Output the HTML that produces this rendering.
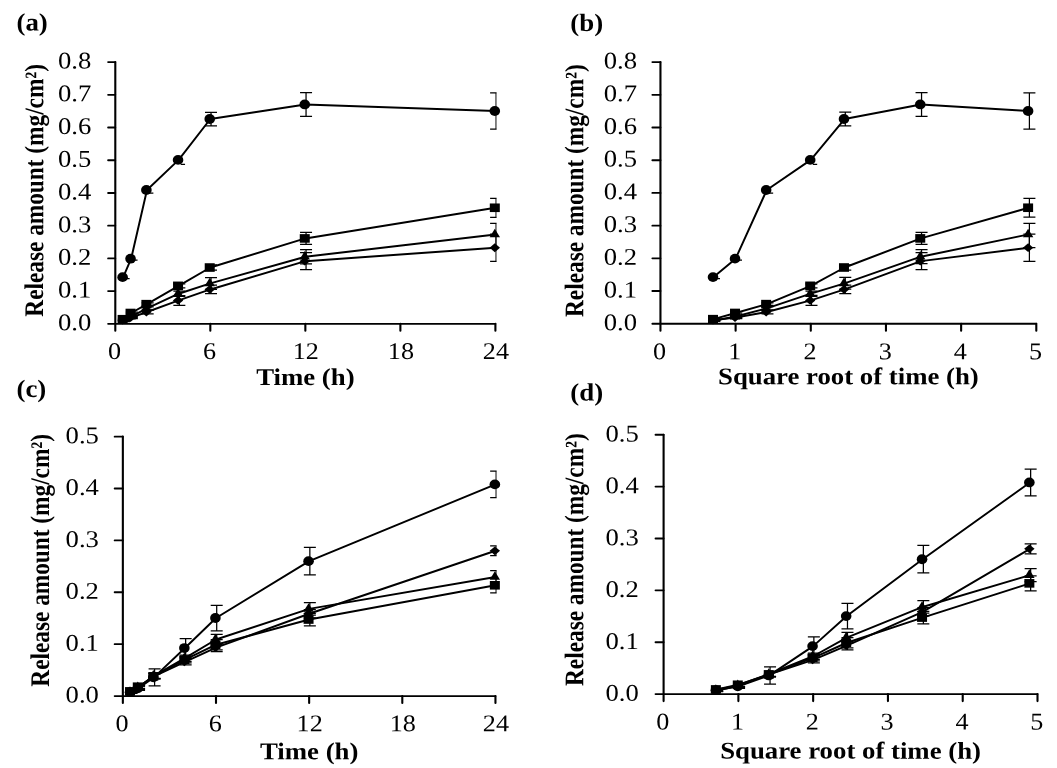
<!DOCTYPE html>
<html lang="en">
<head>
<meta charset="utf-8">
<title>Release amount charts</title>
<style>
html,body{margin:0;padding:0;background:#fff;}
body{width:1057px;height:768px;overflow:hidden;}
svg{display:block;font-family:"Liberation Serif",serif;fill:#000;}
</style>
</head>
<body>
<svg width="1057" height="768" viewBox="0 0 1057 768">
<defs><filter id="soft" x="0" y="0" width="100%" height="100%" filterUnits="userSpaceOnUse"><feGaussianBlur stdDeviation="0.4"/></filter></defs>
<rect width="1057" height="768" fill="#fff"/>
<g filter="url(#soft)">
<g id="panel-a">
<clipPath id="clip-a"><rect x="115.3" y="52.1" width="381.3" height="281.7"/></clipPath>
<g clip-path="url(#clip-a)">
<path d="M123.92 319.55V320.86M117.92 319.55H129.92M117.92 320.86H129.92M131.84 316.6V318.57M125.84 316.6H137.84M125.84 318.57H137.84M147.67 310.06V313.99M141.67 310.06H153.67M141.67 313.99H153.67M179.35 295.54V305.35M173.35 295.54H185.35M173.35 305.35H185.35M211.02 285.2V293.7M205.02 285.2H217.02M205.02 293.7H217.02M306.05 252.65V269.66M300.05 252.65H312.05M300.05 269.66H312.05M496.1 234.1V261.38M490.1 234.1H502.1M490.1 261.38H502.1" fill="none" stroke="#000" stroke-width="1.25"/>
<polyline points="123.22,320.2 131.14,317.58 146.97,312.02 178.65,300.44 210.32,289.45 305.35,261.16 495.4,247.74" fill="none" stroke="#000" stroke-width="1.95" stroke-linejoin="round"/>
<path d="M123.92 320.2V321.51M117.92 320.2H129.92M117.92 321.51H129.92M131.84 315.62V317.58M125.84 315.62H137.84M125.84 317.58H137.84M147.67 306.79V310.06M141.67 306.79H153.67M141.67 310.06H153.67M179.35 291.09V296.32M173.35 291.09H185.35M173.35 296.32H185.35M211.02 277.51V289.29M205.02 277.51H217.02M205.02 289.29H217.02M306.05 249.71V263.77M300.05 249.71H312.05M300.05 263.77H312.05M496.1 223.41V247.68M490.1 223.41H502.1M490.1 247.68H502.1" fill="none" stroke="#000" stroke-width="1.25"/>
<polyline points="123.22,320.86 131.14,316.6 146.97,308.43 178.65,293.7 210.32,283.4 305.35,256.74 495.4,234.43" fill="none" stroke="#000" stroke-width="1.95" stroke-linejoin="round"/>
<path d="M123.92 318.57V319.87M117.92 318.57H129.92M117.92 319.87H129.92M131.84 312.02V313.99M125.84 312.02H137.84M125.84 313.99H137.84M147.67 302.86V305.48M141.67 302.86H153.67M141.67 305.48H153.67M179.35 283.89V287.82M173.35 283.89H185.35M173.35 287.82H185.35M211.02 264.92V270.15M205.02 264.92H217.02M205.02 270.15H217.02M306.05 232.37V244.47M300.05 232.37H312.05M300.05 244.47H312.05M496.1 198.28V217.26M490.1 198.28H502.1M490.1 217.26H502.1" fill="none" stroke="#000" stroke-width="1.25"/>
<polyline points="123.22,319.22 131.14,313 146.97,304.17 178.65,285.85 210.32,267.53 305.35,238.42 495.4,207.77" fill="none" stroke="#000" stroke-width="1.95" stroke-linejoin="round"/>
<path d="M125.22 278.65H129.62M133.14 260.2H137.54M148.97 193.21H153.38M180.65 164.31H185.05M211.02 112.25V125.79M205.02 112.25H217.02M205.02 125.79H217.02M306.05 92.52V116.4M300.05 92.52H312.05M300.05 116.4H312.05M496.1 92.85V129.16M490.1 92.85H502.1M490.1 129.16H502.1" fill="none" stroke="#000" stroke-width="1.25"/>
<polyline points="123.22,277.15 131.14,258.7 146.97,190.01 178.65,159.91 210.32,119.02 305.35,104.46 495.4,111.01" fill="none" stroke="#000" stroke-width="1.95" stroke-linejoin="round"/>
</g>
<g fill="#000">
<path d="M122.62 315.8L127.82 320.2L122.62 324.6L117.42 320.2Z"/>
<path d="M130.54 313.18L135.74 317.58L130.54 321.98L125.34 317.58Z"/>
<path d="M146.38 307.62L151.57 312.02L146.38 316.42L141.18 312.02Z"/>
<path d="M178.05 296.04L183.25 300.44L178.05 304.84L172.85 300.44Z"/>
<path d="M209.72 285.05L214.92 289.45L209.72 293.85L204.53 289.45Z"/>
<path d="M304.75 256.76L309.95 261.16L304.75 265.56L299.55 261.16Z"/>
<path d="M494.8 243.34L500 247.74L494.8 252.14L489.6 247.74Z"/>
<path d="M122.62 315.12L127.82 323.72L117.42 323.72Z"/>
<path d="M130.54 310.87L135.74 319.47L125.34 319.47Z"/>
<path d="M146.38 302.69L151.57 311.29L141.18 311.29Z"/>
<path d="M178.05 287.97L183.25 296.57L172.85 296.57Z"/>
<path d="M209.72 277.67L214.92 286.27L204.53 286.27Z"/>
<path d="M304.75 251.01L309.95 259.61L299.55 259.61Z"/>
<path d="M494.8 228.7L500 237.3L489.6 237.3Z"/>
<rect x="117.62" y="314.92" width="10" height="8.6"/>
<rect x="125.54" y="308.7" width="10" height="8.6"/>
<rect x="141.38" y="299.87" width="10" height="8.6"/>
<rect x="173.05" y="281.55" width="10" height="8.6"/>
<rect x="204.72" y="263.23" width="10" height="8.6"/>
<rect x="299.75" y="234.12" width="10" height="8.6"/>
<rect x="489.8" y="203.47" width="10" height="8.6"/>
<ellipse cx="122.62" cy="277.15" rx="5.3" ry="4.9"/>
<ellipse cx="130.54" cy="258.7" rx="5.3" ry="4.9"/>
<ellipse cx="146.38" cy="190.01" rx="5.3" ry="4.9"/>
<ellipse cx="178.05" cy="159.91" rx="5.3" ry="4.9"/>
<ellipse cx="209.72" cy="119.02" rx="5.3" ry="4.9"/>
<ellipse cx="304.75" cy="104.46" rx="5.3" ry="4.9"/>
<ellipse cx="494.8" cy="111.01" rx="5.3" ry="4.9"/>
</g>
<path d="M115.3 62.1V330.8M210.32 323.8V330.8M305.35 323.8V330.8M400.38 323.8V330.8M495.4 323.8V330.8" fill="none" stroke="#000" stroke-width="2.1" stroke-linecap="round"/>
<path d="M108.1 323.8H495.4M108.1 291.09H115.3M108.1 258.38H115.3M108.1 225.66H115.3M108.1 192.95H115.3M108.1 160.24H115.3M108.1 127.53H115.3M108.1 94.81H115.3M108.1 62.1H115.3" fill="none" stroke="#000" stroke-width="1.85" stroke-linecap="round"/>
<text transform="translate(91.2,330.3) scale(1.11,1) rotate(0.04)" text-anchor="end" font-size="24.0">0.0</text>
<text transform="translate(91.2,297.59) scale(1.11,1) rotate(0.04)" text-anchor="end" font-size="24.0">0.1</text>
<text transform="translate(91.2,264.88) scale(1.11,1) rotate(0.04)" text-anchor="end" font-size="24.0">0.2</text>
<text transform="translate(91.2,232.16) scale(1.11,1) rotate(0.04)" text-anchor="end" font-size="24.0">0.3</text>
<text transform="translate(91.2,199.45) scale(1.11,1) rotate(0.04)" text-anchor="end" font-size="24.0">0.4</text>
<text transform="translate(91.2,166.74) scale(1.11,1) rotate(0.04)" text-anchor="end" font-size="24.0">0.5</text>
<text transform="translate(91.2,134.03) scale(1.11,1) rotate(0.04)" text-anchor="end" font-size="24.0">0.6</text>
<text transform="translate(91.2,101.31) scale(1.11,1) rotate(0.04)" text-anchor="end" font-size="24.0">0.7</text>
<text transform="translate(91.2,68.6) scale(1.11,1) rotate(0.04)" text-anchor="end" font-size="24.0">0.8</text>
<text transform="translate(114.5,358.9) scale(1.09,1) rotate(0.04)" text-anchor="middle" font-size="24.0">0</text>
<text transform="translate(209.52,358.9) scale(1.09,1) rotate(0.04)" text-anchor="middle" font-size="24.0">6</text>
<text transform="translate(305.85,358.9) scale(1.09,1) rotate(0.04)" text-anchor="middle" font-size="24.0">12</text>
<text transform="translate(400.88,358.9) scale(1.09,1) rotate(0.04)" text-anchor="middle" font-size="24.0">18</text>
<text transform="translate(495.9,358.9) scale(1.09,1) rotate(0.04)" text-anchor="middle" font-size="24.0">24</text>
<text transform="translate(305.35,385) scale(1.116,1) rotate(0.04)" text-anchor="middle" font-size="24.0" font-weight="bold">Time (h)</text>
<text transform="translate(43.2,190.3) scale(1.12,0.971) rotate(-89.96)" text-anchor="middle" font-size="24.0" font-weight="bold">Release amount (mg/cm²)</text>
<text transform="translate(16.5,30.6) scale(1.075,1) rotate(0.04)" text-anchor="start" font-size="25" font-weight="bold">(a)</text>
</g>
<g id="panel-b">
<clipPath id="clip-b"><rect x="660.45" y="52.1" width="377.05" height="281.65"/></clipPath>
<g clip-path="url(#clip-b)">
<path d="M714.3 319.5V320.81M708.3 319.5H720.3M708.3 320.81H720.3M736.32 316.55V318.52M730.32 316.55H742.32M730.32 318.52H742.32M767.46 310.01V313.94M761.46 310.01H773.46M761.46 313.94H773.46M811.49 295.49V305.3M805.49 295.49H817.49M805.49 305.3H817.49M845.28 285.16V293.66M839.28 285.16H851.28M839.28 293.66H851.28M921.55 252.61V269.62M915.55 252.61H927.55M915.55 269.62H927.55M1029.41 234.07V261.35M1023.41 234.07H1035.41M1023.41 261.35H1035.41" fill="none" stroke="#000" stroke-width="1.25"/>
<polyline points="713.6,320.15 735.62,317.54 766.76,311.98 810.79,300.4 844.58,289.41 920.85,261.12 1028.71,247.71" fill="none" stroke="#000" stroke-width="1.95" stroke-linejoin="round"/>
<path d="M714.3 320.15V321.46M708.3 320.15H720.3M708.3 321.46H720.3M736.32 315.57V317.54M730.32 315.57H742.32M730.32 317.54H742.32M767.46 306.74V310.01M761.46 306.74H773.46M761.46 310.01H773.46M811.49 291.04V296.28M805.49 291.04H817.49M805.49 296.28H817.49M845.28 277.47V289.24M839.28 277.47H851.28M839.28 289.24H851.28M921.55 249.67V263.73M915.55 249.67H927.55M915.55 263.73H927.55M1029.41 223.37V247.64M1023.41 223.37H1035.41M1023.41 247.64H1035.41" fill="none" stroke="#000" stroke-width="1.25"/>
<polyline points="713.6,320.81 735.62,316.55 766.76,308.38 810.79,293.66 844.58,283.36 920.85,256.7 1028.71,234.4" fill="none" stroke="#000" stroke-width="1.95" stroke-linejoin="round"/>
<path d="M714.3 318.52V319.83M708.3 318.52H720.3M708.3 319.83H720.3M736.32 311.98V313.94M730.32 311.98H742.32M730.32 313.94H742.32M767.46 302.82V305.43M761.46 302.82H773.46M761.46 305.43H773.46M811.49 283.85V287.77M805.49 283.85H817.49M805.49 287.77H817.49M845.28 264.88V270.11M839.28 264.88H851.28M839.28 270.11H851.28M921.55 232.34V244.44M915.55 232.34H927.55M915.55 244.44H927.55M1029.41 198.26V217.23M1023.41 198.26H1035.41M1023.41 217.23H1035.41" fill="none" stroke="#000" stroke-width="1.25"/>
<polyline points="713.6,319.17 735.62,312.96 766.76,304.13 810.79,285.81 844.58,267.5 920.85,238.39 1028.71,207.74" fill="none" stroke="#000" stroke-width="1.95" stroke-linejoin="round"/>
<path d="M715.6 278.61H720M737.62 260.16H742.02M768.76 193.18H773.16M812.79 164.29H817.19M845.28 112.24V125.78M839.28 112.24H851.28M839.28 125.78H851.28M921.55 92.52V116.39M915.55 92.52H927.55M915.55 116.39H927.55M1029.41 92.84V129.15M1023.41 92.84H1035.41M1023.41 129.15H1035.41" fill="none" stroke="#000" stroke-width="1.25"/>
<polyline points="713.6,277.11 735.62,258.66 766.76,189.98 810.79,159.89 844.58,119.01 920.85,104.45 1028.71,111" fill="none" stroke="#000" stroke-width="1.95" stroke-linejoin="round"/>
</g>
<g fill="#000">
<path d="M713 315.75L718.2 320.15L713 324.55L707.8 320.15Z"/>
<path d="M735.02 313.14L740.22 317.54L735.02 321.94L729.82 317.54Z"/>
<path d="M766.16 307.58L771.36 311.98L766.16 316.38L760.96 311.98Z"/>
<path d="M810.19 296L815.39 300.4L810.19 304.8L804.99 300.4Z"/>
<path d="M843.98 285.01L849.18 289.41L843.98 293.81L838.78 289.41Z"/>
<path d="M920.25 256.72L925.45 261.12L920.25 265.52L915.05 261.12Z"/>
<path d="M1028.11 243.31L1033.31 247.71L1028.11 252.11L1022.91 247.71Z"/>
<path d="M713 315.07L718.2 323.67L707.8 323.67Z"/>
<path d="M735.02 310.82L740.22 319.42L729.82 319.42Z"/>
<path d="M766.16 302.64L771.36 311.24L760.96 311.24Z"/>
<path d="M810.19 287.93L815.39 296.53L804.99 296.53Z"/>
<path d="M843.98 277.62L849.18 286.22L838.78 286.22Z"/>
<path d="M920.25 250.97L925.45 259.57L915.05 259.57Z"/>
<path d="M1028.11 228.66L1033.31 237.26L1022.91 237.26Z"/>
<rect x="708" y="314.87" width="10" height="8.6"/>
<rect x="730.02" y="308.66" width="10" height="8.6"/>
<rect x="761.16" y="299.83" width="10" height="8.6"/>
<rect x="805.19" y="281.51" width="10" height="8.6"/>
<rect x="838.98" y="263.2" width="10" height="8.6"/>
<rect x="915.25" y="234.09" width="10" height="8.6"/>
<rect x="1023.11" y="203.44" width="10" height="8.6"/>
<ellipse cx="713" cy="277.11" rx="5.3" ry="4.9"/>
<ellipse cx="735.02" cy="258.66" rx="5.3" ry="4.9"/>
<ellipse cx="766.16" cy="189.98" rx="5.3" ry="4.9"/>
<ellipse cx="810.19" cy="159.89" rx="5.3" ry="4.9"/>
<ellipse cx="843.98" cy="119.01" rx="5.3" ry="4.9"/>
<ellipse cx="920.25" cy="104.45" rx="5.3" ry="4.9"/>
<ellipse cx="1028.11" cy="111" rx="5.3" ry="4.9"/>
</g>
<path d="M660.45 62.1V330.75M735.62 323.75V330.75M810.79 323.75V330.75M885.96 323.75V330.75M961.13 323.75V330.75M1036.3 323.75V330.75" fill="none" stroke="#000" stroke-width="2.1" stroke-linecap="round"/>
<path d="M652.35 323.75H1036.3M652.35 291.04H660.45M652.35 258.34H660.45M652.35 225.63H660.45M652.35 192.93H660.45M652.35 160.22H660.45M652.35 127.51H660.45M652.35 94.81H660.45M652.35 62.1H660.45" fill="none" stroke="#000" stroke-width="1.85" stroke-linecap="round"/>
<text transform="translate(637.1,330.15) scale(1.11,1) rotate(0.04)" text-anchor="end" font-size="24.0">0.0</text>
<text transform="translate(637.1,297.44) scale(1.11,1) rotate(0.04)" text-anchor="end" font-size="24.0">0.1</text>
<text transform="translate(637.1,264.74) scale(1.11,1) rotate(0.04)" text-anchor="end" font-size="24.0">0.2</text>
<text transform="translate(637.1,232.03) scale(1.11,1) rotate(0.04)" text-anchor="end" font-size="24.0">0.3</text>
<text transform="translate(637.1,199.33) scale(1.11,1) rotate(0.04)" text-anchor="end" font-size="24.0">0.4</text>
<text transform="translate(637.1,166.62) scale(1.11,1) rotate(0.04)" text-anchor="end" font-size="24.0">0.5</text>
<text transform="translate(637.1,133.91) scale(1.11,1) rotate(0.04)" text-anchor="end" font-size="24.0">0.6</text>
<text transform="translate(637.1,101.21) scale(1.11,1) rotate(0.04)" text-anchor="end" font-size="24.0">0.7</text>
<text transform="translate(637.1,68.5) scale(1.11,1) rotate(0.04)" text-anchor="end" font-size="24.0">0.8</text>
<text transform="translate(659.65,359.25) scale(1.09,1) rotate(0.04)" text-anchor="middle" font-size="24.0">0</text>
<text transform="translate(734.82,359.25) scale(1.09,1) rotate(0.04)" text-anchor="middle" font-size="24.0">1</text>
<text transform="translate(809.99,359.25) scale(1.09,1) rotate(0.04)" text-anchor="middle" font-size="24.0">2</text>
<text transform="translate(885.16,359.25) scale(1.09,1) rotate(0.04)" text-anchor="middle" font-size="24.0">3</text>
<text transform="translate(960.33,359.25) scale(1.09,1) rotate(0.04)" text-anchor="middle" font-size="24.0">4</text>
<text transform="translate(1035.5,359.25) scale(1.09,1) rotate(0.04)" text-anchor="middle" font-size="24.0">5</text>
<text transform="translate(848.38,384.25) scale(1.116,1) rotate(0.04)" text-anchor="middle" font-size="24.0" font-weight="bold">Square root of time (h)</text>
<text transform="translate(583.3,190.6) scale(1.12,0.971) rotate(-89.96)" text-anchor="middle" font-size="24.0" font-weight="bold">Release amount (mg/cm²)</text>
<text transform="translate(570.25,31) scale(1.075,1) rotate(0.04)" text-anchor="start" font-size="25" font-weight="bold">(b)</text>
</g>
<g id="panel-c">
<clipPath id="clip-c"><rect x="122.85" y="426.65" width="373.8" height="279.4"/></clipPath>
<g clip-path="url(#clip-c)">
<path d="M131.31 691.38V693.46M125.31 691.38H137.31M125.31 693.46H137.31M139.07 686.19V689.31M133.07 686.19H145.07M133.07 689.31H145.07M154.6 673.74V678.93M148.6 673.74H160.6M148.6 678.93H160.6M185.65 658.7V664.92M179.65 658.7H191.65M179.65 664.92H191.65M216.7 643.44V651.74M210.7 643.44H222.7M210.7 651.74H222.7M309.85 609.62V617.92M303.85 609.62H315.85M303.85 617.92H315.85M496.15 545.86V555.71M490.15 545.86H502.15M490.15 555.71H502.15" fill="none" stroke="#000" stroke-width="1.25"/>
<polyline points="130.61,692.42 138.38,687.75 153.9,676.34 184.95,661.81 216,647.59 309.15,613.77 495.45,550.79" fill="none" stroke="#000" stroke-width="1.95" stroke-linejoin="round"/>
<path d="M131.31 690.86V692.94M125.31 690.86H137.31M125.31 692.94H137.31M139.07 685.67V688.79M133.07 685.67H145.07M133.07 688.79H145.07M154.6 673.22V678.41M148.6 673.22H160.6M148.6 678.41H160.6M185.65 655.06V661.29M179.65 655.06H191.65M179.65 661.29H191.65M216.7 634.31V644.69M210.7 634.31H222.7M210.7 644.69H222.7M309.85 602.67V615.12M303.85 602.67H315.85M303.85 615.12H315.85M496.15 570.5V583.47M490.15 570.5H502.15M490.15 583.47H502.15" fill="none" stroke="#000" stroke-width="1.25"/>
<polyline points="130.61,691.9 138.38,687.23 153.9,675.82 184.95,658.18 216,639.5 309.15,608.89 495.45,576.99" fill="none" stroke="#000" stroke-width="1.95" stroke-linejoin="round"/>
<path d="M131.31 690.34V692.42M125.31 690.34H137.31M125.31 692.42H137.31M139.07 685.16V688.27M133.07 685.16H145.07M133.07 688.27H145.07M154.6 673.74V678.93M148.6 673.74H160.6M148.6 678.93H160.6M185.65 656.62V662.85M179.65 656.62H191.65M179.65 662.85H191.65M216.7 639.5V649.88M210.7 639.5H222.7M210.7 649.88H222.7M309.85 613.3V625.75M303.85 613.3H315.85M303.85 625.75H315.85M496.15 577.76V592.81M490.15 577.76H502.15M490.15 592.81H502.15" fill="none" stroke="#000" stroke-width="1.25"/>
<polyline points="130.61,691.38 138.38,686.71 153.9,676.34 184.95,659.73 216,644.69 309.15,619.53 495.45,585.29" fill="none" stroke="#000" stroke-width="1.95" stroke-linejoin="round"/>
<path d="M131.31 691.12V693.2M125.31 691.12H137.31M125.31 693.2H137.31M139.07 686.19V690.34M133.07 686.19H145.07M133.07 690.34H145.07M154.6 668.76V685.99M148.6 668.76H160.6M148.6 685.99H160.6M185.65 638.72V657.4M179.65 638.72H191.65M179.65 657.4H191.65M216.7 605.26V630.78M210.7 605.26H222.7M210.7 630.78H222.7M309.85 547.41V574.91M303.85 547.41H315.85M303.85 574.91H315.85M496.15 471.1V497.66M490.15 471.1H502.15M490.15 497.66H502.15" fill="none" stroke="#000" stroke-width="1.25"/>
<polyline points="130.61,692.16 138.38,688.27 153.9,677.37 184.95,648.06 216,618.02 309.15,561.16 495.45,484.38" fill="none" stroke="#000" stroke-width="1.95" stroke-linejoin="round"/>
</g>
<g fill="#000">
<path d="M130.01 688.02L135.21 692.42L130.01 696.82L124.81 692.42Z"/>
<path d="M137.78 683.35L142.97 687.75L137.78 692.15L132.58 687.75Z"/>
<path d="M153.3 671.94L158.5 676.34L153.3 680.74L148.1 676.34Z"/>
<path d="M184.35 657.41L189.55 661.81L184.35 666.21L179.15 661.81Z"/>
<path d="M215.4 643.19L220.6 647.59L215.4 651.99L210.2 647.59Z"/>
<path d="M308.55 609.37L313.75 613.77L308.55 618.17L303.35 613.77Z"/>
<path d="M494.85 546.39L500.05 550.79L494.85 555.19L489.65 550.79Z"/>
<path d="M130.01 686.17L135.21 694.77L124.81 694.77Z"/>
<path d="M137.78 681.5L142.97 690.1L132.58 690.1Z"/>
<path d="M153.3 670.08L158.5 678.68L148.1 678.68Z"/>
<path d="M184.35 652.44L189.55 661.04L179.15 661.04Z"/>
<path d="M215.4 633.77L220.6 642.37L210.2 642.37Z"/>
<path d="M308.55 603.16L313.75 611.76L303.35 611.76Z"/>
<path d="M494.85 571.25L500.05 579.85L489.65 579.85Z"/>
<rect x="125.01" y="687.08" width="10" height="8.6"/>
<rect x="132.78" y="682.41" width="10" height="8.6"/>
<rect x="148.3" y="672.04" width="10" height="8.6"/>
<rect x="179.35" y="655.43" width="10" height="8.6"/>
<rect x="210.4" y="640.39" width="10" height="8.6"/>
<rect x="303.55" y="615.23" width="10" height="8.6"/>
<rect x="489.85" y="580.99" width="10" height="8.6"/>
<ellipse cx="130.01" cy="692.16" rx="5.3" ry="4.9"/>
<ellipse cx="137.78" cy="688.27" rx="5.3" ry="4.9"/>
<ellipse cx="153.3" cy="677.37" rx="5.3" ry="4.9"/>
<ellipse cx="184.35" cy="648.06" rx="5.3" ry="4.9"/>
<ellipse cx="215.4" cy="618.02" rx="5.3" ry="4.9"/>
<ellipse cx="308.55" cy="561.16" rx="5.3" ry="4.9"/>
<ellipse cx="494.85" cy="484.38" rx="5.3" ry="4.9"/>
</g>
<path d="M122.85 436.65V703.05M216 696.05V703.05M309.15 696.05V703.05M402.3 696.05V703.05M495.45 696.05V703.05" fill="none" stroke="#000" stroke-width="2.1" stroke-linecap="round"/>
<path d="M114.65 696.05H495.45M114.65 644.17H122.85M114.65 592.29H122.85M114.65 540.41H122.85M114.65 488.53H122.85M114.65 436.65H122.85" fill="none" stroke="#000" stroke-width="1.85" stroke-linecap="round"/>
<text transform="translate(98.9,702.55) scale(1.11,1) rotate(0.04)" text-anchor="end" font-size="24.0">0.0</text>
<text transform="translate(98.9,650.67) scale(1.11,1) rotate(0.04)" text-anchor="end" font-size="24.0">0.1</text>
<text transform="translate(98.9,598.79) scale(1.11,1) rotate(0.04)" text-anchor="end" font-size="24.0">0.2</text>
<text transform="translate(98.9,546.91) scale(1.11,1) rotate(0.04)" text-anchor="end" font-size="24.0">0.3</text>
<text transform="translate(98.9,495.03) scale(1.11,1) rotate(0.04)" text-anchor="end" font-size="24.0">0.4</text>
<text transform="translate(98.9,443.15) scale(1.11,1) rotate(0.04)" text-anchor="end" font-size="24.0">0.5</text>
<text transform="translate(122.05,731.25) scale(1.09,1) rotate(0.04)" text-anchor="middle" font-size="24.0">0</text>
<text transform="translate(215.2,731.25) scale(1.09,1) rotate(0.04)" text-anchor="middle" font-size="24.0">6</text>
<text transform="translate(309.65,731.25) scale(1.09,1) rotate(0.04)" text-anchor="middle" font-size="24.0">12</text>
<text transform="translate(402.8,731.25) scale(1.09,1) rotate(0.04)" text-anchor="middle" font-size="24.0">18</text>
<text transform="translate(495.95,731.25) scale(1.09,1) rotate(0.04)" text-anchor="middle" font-size="24.0">24</text>
<text transform="translate(309.15,759.3) scale(1.116,1) rotate(0.04)" text-anchor="middle" font-size="24.0" font-weight="bold">Time (h)</text>
<text transform="translate(49,560.3) scale(1.12,0.971) rotate(-89.96)" text-anchor="middle" font-size="24.0" font-weight="bold">Release amount (mg/cm²)</text>
<text transform="translate(16.5,396.9) scale(1.075,1) rotate(0.04)" text-anchor="start" font-size="25" font-weight="bold">(c)</text>
</g>
<g id="panel-d">
<clipPath id="clip-d"><rect x="663.6" y="424.75" width="375.1" height="279.35"/></clipPath>
<g clip-path="url(#clip-d)">
<path d="M717.18 689.43V691.51M711.18 689.43H723.18M711.18 691.51H723.18M739.08 684.24V687.36M733.08 684.24H745.08M733.08 687.36H745.08M770.05 671.8V676.98M764.05 671.8H776.05M764.05 676.98H776.05M813.86 656.75V662.98M807.86 656.75H819.86M807.86 662.98H819.86M847.47 641.5V649.8M841.47 641.5H853.47M841.47 649.8H853.47M923.35 607.68V615.98M917.35 607.68H929.35M917.35 615.98H929.35M1030.65 543.94V553.79M1024.65 543.94H1036.65M1024.65 553.79H1036.65" fill="none" stroke="#000" stroke-width="1.25"/>
<polyline points="716.48,690.47 738.38,685.8 769.35,674.39 813.16,659.87 846.77,645.65 922.65,611.83 1029.95,548.86" fill="none" stroke="#000" stroke-width="1.95" stroke-linejoin="round"/>
<path d="M717.18 688.91V690.99M711.18 688.91H723.18M711.18 690.99H723.18M739.08 683.73V686.84M733.08 683.73H745.08M733.08 686.84H745.08M770.05 671.28V676.46M764.05 671.28H776.05M764.05 676.46H776.05M813.86 653.12V659.35M807.86 653.12H819.86M807.86 659.35H819.86M847.47 632.37V642.75M841.47 632.37H853.47M841.47 642.75H853.47M923.35 600.73V613.18M917.35 600.73H929.35M917.35 613.18H929.35M1030.65 568.57V581.54M1024.65 568.57H1036.65M1024.65 581.54H1036.65" fill="none" stroke="#000" stroke-width="1.25"/>
<polyline points="716.48,689.95 738.38,685.28 769.35,673.87 813.16,656.23 846.77,637.56 922.65,606.96 1029.95,575.06" fill="none" stroke="#000" stroke-width="1.95" stroke-linejoin="round"/>
<path d="M717.18 688.39V690.47M711.18 688.39H723.18M711.18 690.47H723.18M739.08 683.21V686.32M733.08 683.21H745.08M733.08 686.32H745.08M770.05 671.8V676.98M764.05 671.8H776.05M764.05 676.98H776.05M813.86 654.68V660.9M807.86 654.68H819.86M807.86 660.9H819.86M847.47 637.56V647.94M841.47 637.56H853.47M841.47 647.94H853.47M923.35 611.37V623.82M917.35 611.37H929.35M917.35 623.82H929.35M1030.65 575.84V590.88M1024.65 575.84H1036.65M1024.65 590.88H1036.65" fill="none" stroke="#000" stroke-width="1.25"/>
<polyline points="716.48,689.43 738.38,684.76 769.35,674.39 813.16,657.79 846.77,642.75 922.65,617.59 1029.95,583.36" fill="none" stroke="#000" stroke-width="1.95" stroke-linejoin="round"/>
<path d="M717.18 689.17V691.25M711.18 689.17H723.18M711.18 691.25H723.18M739.08 684.24V688.39M733.08 684.24H745.08M733.08 688.39H745.08M770.05 666.82V684.04M764.05 666.82H776.05M764.05 684.04H776.05M813.86 636.78V655.46M807.86 636.78H819.86M807.86 655.46H819.86M847.47 603.33V628.85M841.47 603.33H853.47M841.47 628.85H853.47M923.35 545.49V572.98M917.35 545.49H929.35M917.35 572.98H929.35M1030.65 469.19V495.75M1024.65 469.19H1036.65M1024.65 495.75H1036.65" fill="none" stroke="#000" stroke-width="1.25"/>
<polyline points="716.48,690.21 738.38,686.32 769.35,675.43 813.16,646.12 846.77,616.09 922.65,559.24 1029.95,482.47" fill="none" stroke="#000" stroke-width="1.95" stroke-linejoin="round"/>
</g>
<g fill="#000">
<path d="M715.88 686.07L721.08 690.47L715.88 694.87L710.68 690.47Z"/>
<path d="M737.78 681.4L742.98 685.8L737.78 690.2L732.58 685.8Z"/>
<path d="M768.75 669.99L773.95 674.39L768.75 678.79L763.55 674.39Z"/>
<path d="M812.56 655.47L817.76 659.87L812.56 664.27L807.36 659.87Z"/>
<path d="M846.17 641.25L851.37 645.65L846.17 650.05L840.97 645.65Z"/>
<path d="M922.05 607.43L927.25 611.83L922.05 616.23L916.85 611.83Z"/>
<path d="M1029.35 544.46L1034.55 548.86L1029.35 553.26L1024.15 548.86Z"/>
<path d="M715.88 684.22L721.08 692.82L710.68 692.82Z"/>
<path d="M737.78 679.55L742.98 688.15L732.58 688.15Z"/>
<path d="M768.75 668.14L773.95 676.74L763.55 676.74Z"/>
<path d="M812.56 650.5L817.76 659.1L807.36 659.1Z"/>
<path d="M846.17 631.83L851.37 640.43L840.97 640.43Z"/>
<path d="M922.05 601.23L927.25 609.83L916.85 609.83Z"/>
<path d="M1029.35 569.33L1034.55 577.93L1024.15 577.93Z"/>
<rect x="710.88" y="685.13" width="10" height="8.6"/>
<rect x="732.78" y="680.46" width="10" height="8.6"/>
<rect x="763.75" y="670.09" width="10" height="8.6"/>
<rect x="807.56" y="653.49" width="10" height="8.6"/>
<rect x="841.17" y="638.45" width="10" height="8.6"/>
<rect x="917.05" y="613.29" width="10" height="8.6"/>
<rect x="1024.35" y="579.06" width="10" height="8.6"/>
<ellipse cx="715.88" cy="690.21" rx="5.3" ry="4.9"/>
<ellipse cx="737.78" cy="686.32" rx="5.3" ry="4.9"/>
<ellipse cx="768.75" cy="675.43" rx="5.3" ry="4.9"/>
<ellipse cx="812.56" cy="646.12" rx="5.3" ry="4.9"/>
<ellipse cx="846.17" cy="616.09" rx="5.3" ry="4.9"/>
<ellipse cx="922.05" cy="559.24" rx="5.3" ry="4.9"/>
<ellipse cx="1029.35" cy="482.47" rx="5.3" ry="4.9"/>
</g>
<path d="M663.6 434.75V701.1M738.38 694.1V701.1M813.16 694.1V701.1M887.94 694.1V701.1M962.72 694.1V701.1M1037.5 694.1V701.1" fill="none" stroke="#000" stroke-width="2.1" stroke-linecap="round"/>
<path d="M655.5 694.1H1037.5M655.5 642.23H663.6M655.5 590.36H663.6M655.5 538.49H663.6M655.5 486.62H663.6M655.5 434.75H663.6" fill="none" stroke="#000" stroke-width="1.85" stroke-linecap="round"/>
<text transform="translate(638.8,700.8) scale(1.11,1) rotate(0.04)" text-anchor="end" font-size="24.0">0.0</text>
<text transform="translate(638.8,648.93) scale(1.11,1) rotate(0.04)" text-anchor="end" font-size="24.0">0.1</text>
<text transform="translate(638.8,597.06) scale(1.11,1) rotate(0.04)" text-anchor="end" font-size="24.0">0.2</text>
<text transform="translate(638.8,545.19) scale(1.11,1) rotate(0.04)" text-anchor="end" font-size="24.0">0.3</text>
<text transform="translate(638.8,493.32) scale(1.11,1) rotate(0.04)" text-anchor="end" font-size="24.0">0.4</text>
<text transform="translate(638.8,441.45) scale(1.11,1) rotate(0.04)" text-anchor="end" font-size="24.0">0.5</text>
<text transform="translate(662.8,729.5) scale(1.09,1) rotate(0.04)" text-anchor="middle" font-size="24.0">0</text>
<text transform="translate(737.58,729.5) scale(1.09,1) rotate(0.04)" text-anchor="middle" font-size="24.0">1</text>
<text transform="translate(812.36,729.5) scale(1.09,1) rotate(0.04)" text-anchor="middle" font-size="24.0">2</text>
<text transform="translate(887.14,729.5) scale(1.09,1) rotate(0.04)" text-anchor="middle" font-size="24.0">3</text>
<text transform="translate(961.92,729.5) scale(1.09,1) rotate(0.04)" text-anchor="middle" font-size="24.0">4</text>
<text transform="translate(1036.7,729.5) scale(1.09,1) rotate(0.04)" text-anchor="middle" font-size="24.0">5</text>
<text transform="translate(850.55,758.6) scale(1.116,1) rotate(0.04)" text-anchor="middle" font-size="24.0" font-weight="bold">Square root of time (h)</text>
<text transform="translate(583.3,559.6) scale(1.12,0.971) rotate(-89.96)" text-anchor="middle" font-size="24.0" font-weight="bold">Release amount (mg/cm²)</text>
<text transform="translate(570.25,400.5) scale(1.075,1) rotate(0.04)" text-anchor="start" font-size="25" font-weight="bold">(d)</text>
</g>
</g>
</svg>
</body>
</html>
